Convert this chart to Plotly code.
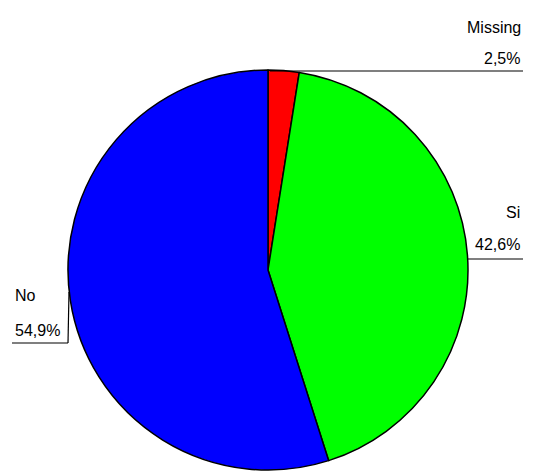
import plotly.graph_objects as go

labels = ["Missing", "Si", "No"]
values = [2.5, 42.6, 54.9]
colors = ["#ff0000", "#00ff00", "#0000ff"]

W, H = 534, 476


def px(x):
    return x / W


def py(y):
    return 1 - y / H


def pct(v):
    return f"{v:.1f}%".replace(".", ",")


fig = go.Figure(
    go.Pie(
        labels=labels,
        values=values,
        marker=dict(colors=colors, line=dict(color="black", width=1.5)),
        sort=False,
        direction="clockwise",
        rotation=0,
        textinfo="none",
        hoverinfo="label+percent",
        domain=dict(x=[px(68), px(468)], y=[py(470), py(70)]),
        showlegend=False,
    )
)

font = dict(family="Liberation Sans, Arial, sans-serif", size=16, color="black")

# label positions: (name x, name y, pct x, pct y, anchor)
label_pos = {
    "Missing": (523, 27, 522, 58, "right"),
    "Si": (522, 212, 522, 245, "right"),
    "No": (13, 295, 13, 330, "left"),
}

annotations = []
for name, v in zip(labels, values):
    nx, ny, qx, qy, anc = label_pos[name]
    annotations.append(dict(x=px(nx), y=py(ny), xref="paper", yref="paper", text=name,
                            showarrow=False, xanchor=anc, yanchor="middle", font=font))
    annotations.append(dict(x=px(qx), y=py(qy), xref="paper", yref="paper", text=pct(v),
                            showarrow=False, xanchor=anc, yanchor="middle", font=font))

leaders = [
    (270, 71, 523, 71),
    (468, 259, 523, 259),
    (12, 343, 68, 343),
    (68, 343, 69, 292),
]
shapes = [
    dict(type="line", xref="paper", yref="paper", x0=px(a), y0=py(b), x1=px(c), y1=py(d),
         line=dict(color="black", width=1.2))
    for a, b, c, d in leaders
]

fig.update_layout(
    width=W,
    height=H,
    margin=dict(l=0, r=0, t=0, b=0),
    paper_bgcolor="white",
    plot_bgcolor="white",
    annotations=annotations,
    shapes=shapes,
)

fig.write_html("out.html", config={"displayModeBar": False},
               post_script="document.body.style.margin='0';")
